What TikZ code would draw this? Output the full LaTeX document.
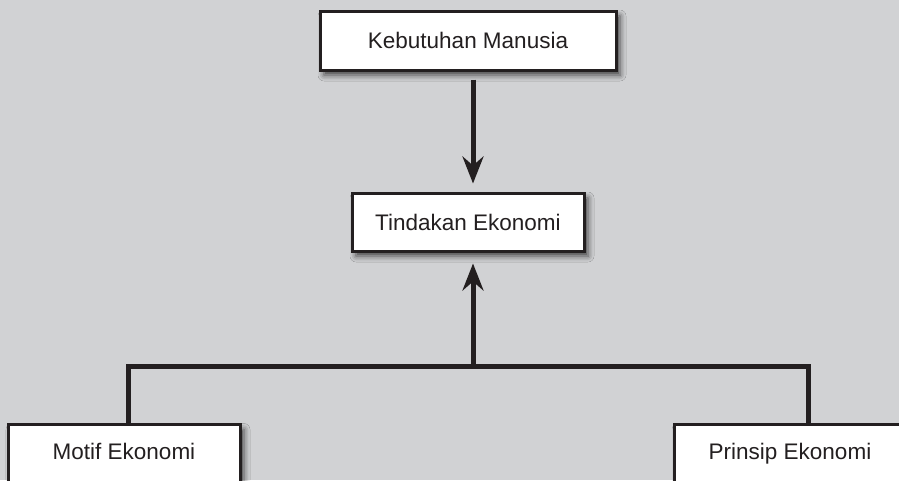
\documentclass[tikz,border=0pt]{standalone}
\usepackage{fontspec}
\setmainfont{Liberation Sans}
\usetikzlibrary{arrows.meta,shadows.blur}
\definecolor{bg}{HTML}{D1D2D4}
\definecolor{ink}{HTML}{231F20}
\tikzset{
  box/.style={draw=ink, line width=3pt, fill=white, text=ink,
    font=\fontsize{22.5}{27}\selectfont, minimum height=59pt,
    inner sep=0pt,
    blur shadow={shadow xshift=4pt, shadow yshift=-5pt, shadow blur radius=6pt, shadow opacity=70}},
  lowbox/.style={box, anchor=north, text height=20pt, text depth=40pt, inner ysep=14.5pt, minimum height=0pt},
  conn/.style={draw=ink, line width=5pt, line join=miter},
  arr/.style={conn, -{Stealth[length=27pt, width=21pt, inset=9pt]}}
}
\begin{document}
\begin{tikzpicture}[x=1pt,y=-1pt]
\fill[bg] (0,0) rectangle (899,480);
\useasboundingbox (0,0) rectangle (899,480);
\node[box, minimum width=296pt] (keb) at (468,40.5) {Kebutuhan Manusia};
\node[box, minimum width=232pt, minimum height=58pt] (tind) at (468,222) {Tindakan Ekonomi};
\node[lowbox, minimum width=232pt] (motif) at (124,423) {Motif Ekonomi};
\node[lowbox, minimum width=232pt] (prin) at (790,423) {Prinsip Ekonomi};
\coordinate (hub) at (473,366);
\draw[arr, shorten <=8pt, shorten >=8pt] ([xshift=5pt]keb.south) -- ([xshift=5pt]tind.north);
\draw[conn] ([xshift=4pt]motif.north) |- (hub) -| ([xshift=18pt]prin.north);
\draw[arr, shorten >=11pt] (hub) -- ([xshift=5pt]tind.south);
\end{tikzpicture}
\end{document}
